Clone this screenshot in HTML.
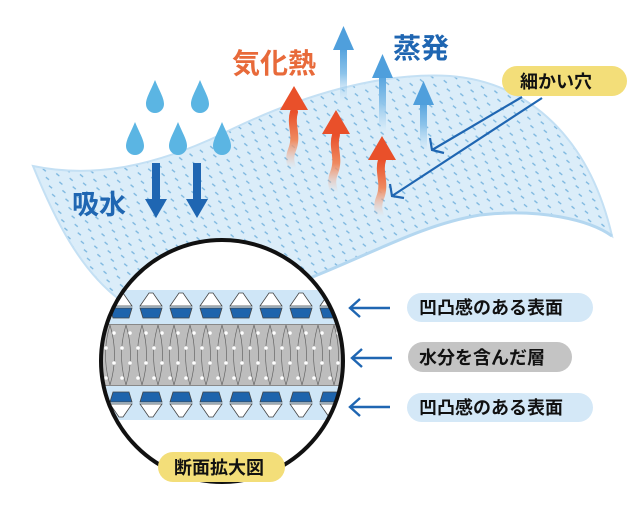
<!DOCTYPE html>
<html><head><meta charset="utf-8"><style>
html,body{margin:0;padding:0;background:#fff;}
svg{display:block;}
text{font-family:"Liberation Sans","Noto Sans CJK JP",sans-serif;font-weight:bold;}
</style></head><body>
<svg width="640" height="520" viewBox="0 0 640 520" xmlns="http://www.w3.org/2000/svg">
<defs>
<pattern id="dots" width="11" height="9" patternUnits="userSpaceOnUse" patternTransform="rotate(-20)">
<rect width="11" height="9" fill="#dbedf9"/>
<rect x="3.5" y="3.3" width="4" height="1.3" fill="#7ab6df" transform="rotate(60 5.5 4)"/>
</pattern>
<linearGradient id="red" x1="0" y1="1" x2="0" y2="0">
<stop offset="0" stop-color="#f3b9a0" stop-opacity="0"/><stop offset="0.5" stop-color="#ef8a60"/><stop offset="1" stop-color="#e9502a"/>
</linearGradient>
<linearGradient id="blu" x1="0" y1="1" x2="0" y2="0">
<stop offset="0" stop-color="#a8d2f0" stop-opacity="0"/><stop offset="0.5" stop-color="#8cc3ea"/><stop offset="1" stop-color="#4f9fdc"/>
</linearGradient>
<pattern id="topL" x="106" y="0" width="30" height="520" patternUnits="userSpaceOnUse">
<rect width="30" height="520" fill="#cfe6f7"/>
<path d="M13 293 L17 293 L26 306 L4 306 Z" fill="#fff" stroke="#444" stroke-width="0.8"/>
<path d="M4 308 L26 308 L23 318 L7 318 Z" fill="#1e64ac" stroke="#444" stroke-width="0.8"/>
</pattern>
<pattern id="botL" x="106" y="0" width="30" height="520" patternUnits="userSpaceOnUse">
<rect width="30" height="520" fill="#cfe6f7"/>
<path d="M13 417 L17 417 L26 404 L4 404 Z" fill="#fff" stroke="#444" stroke-width="0.8"/>
<path d="M4 402 L26 402 L23 392 L7 392 Z" fill="#1e64ac" stroke="#444" stroke-width="0.8"/>
</pattern>
<pattern id="gray" x="106" y="325" width="16" height="60" patternUnits="userSpaceOnUse">
<rect width="16" height="60" fill="#bdbdbd"/>
<path d="M4 0 C10 20 10 40 4 60 M4 0 C-2 20 -2 40 4 60 M20 0 C14 20 14 40 20 60" fill="none" stroke="#666" stroke-width="0.7"/>
<circle cx="8" cy="8" r="1.8" fill="#fff"/><circle cx="16" cy="23" r="1.8" fill="#fff"/><circle cx="0" cy="23" r="1.8" fill="#fff"/>
<circle cx="8" cy="38" r="1.8" fill="#fff"/><circle cx="16" cy="53" r="1.8" fill="#fff"/><circle cx="0" cy="53" r="1.8" fill="#fff"/>
</pattern>
<clipPath id="circ"><circle cx="222" cy="361" r="121"/></clipPath>
</defs>
<!-- cloth -->
<path d="M33 166 C90 178 150 168 220 135 C300 95 380 72 450 76 C530 82 590 140 612 236 C590 220 540 208 480 215 C420 225 370 255 300 282 C230 305 150 320 120 300 C80 270 55 220 33 166 Z" fill="url(#dots)" stroke="#c4e0f4" stroke-width="2"/>
<path d="M612 236 C590 220 540 208 480 215 C420 225 370 255 300 282" fill="none" stroke="#b4d7f0" stroke-width="3"/>
<!-- drops -->
<g fill="#5bb5e3">
<path d="M155 80 C150 92 146 98 146 104 A9 9 0 0 0 164 104 C164 98 160 92 155 80Z"/>
<path d="M200 80 C195 92 191 98 191 104 A9 9 0 0 0 209 104 C209 98 205 92 200 80Z"/>
<path d="M135 122 C130 134 126 140 126 146 A9 9 0 0 0 144 146 C144 140 140 134 135 122Z"/>
<path d="M178 122 C173 134 169 140 169 146 A9 9 0 0 0 187 146 C187 140 183 134 178 122Z"/>
<path d="M222 122 C217 134 213 140 213 146 A9 9 0 0 0 231 146 C231 140 227 134 222 122Z"/>
</g>
<g fill="#1f66b2">
<rect x="152" y="163" width="8" height="40"/><path d="M145 199 L167 199 L156 218Z"/>
<rect x="193" y="163" width="8" height="40"/><path d="M186 199 L208 199 L197 218Z"/>
</g>
<text x="72" y="214" font-size="27" fill="#1f66b2">吸水</text>
<text x="232" y="73" font-size="28" fill="#e86a3a">気化熱</text>
<text x="393" y="58" font-size="28" fill="#1f66b2">蒸発</text>
<!-- blue up arrows -->
<g>
<rect x="340" y="46" width="7" height="55" fill="url(#blu)"/><path d="M333 50 L354 50 L343.5 26Z" fill="#4f9fdc"/>
<rect x="379" y="72" width="7" height="60" fill="url(#blu)"/><path d="M372 78 L393 78 L382.5 54Z" fill="#4f9fdc"/>
<rect x="420" y="100" width="7" height="50" fill="url(#blu)"/><path d="M413 105 L434 105 L423.5 81Z" fill="#4f9fdc"/>
</g>
<!-- red wavy arrows -->
<g fill="none" stroke="url(#red)" stroke-width="8" stroke-linecap="round">
<path d="M294 112 C290 125 298 135 292 150 C288 160 292 166 292 168"/>
<path d="M336 135 C332 148 340 158 334 173 C330 183 334 190 334 192"/>
<path d="M382 160 C378 173 386 183 380 198 C376 208 380 214 380 216"/>
</g>
<g fill="#e9502a">
<path d="M280 110 L308 110 L294 86Z"/><path d="M322 134 L350 134 L336 110Z"/><path d="M368 160 L396 160 L382 136Z"/>
</g>
<!-- 細かい穴 -->
<rect x="502" y="66" width="125" height="30" rx="15" fill="#f3de79"/>
<text x="520" y="88" font-size="18" fill="#111">細かい穴</text>
<g stroke="#1f66b2" stroke-width="2.2" fill="none">
<path d="M522 97 L432 150 M430 138 L432 150 L444 153"/>
<path d="M542 98 L392 196 M390 184 L392 196 L404 198"/>
</g>
<!-- circle -->
<circle cx="222" cy="361" r="121" fill="#fff"/>
<g clip-path="url(#circ)">
<rect x="90" y="290" width="260" height="34" fill="url(#topL)"/>
<rect x="90" y="325" width="260" height="60" fill="url(#gray)"/>
<rect x="90" y="386" width="260" height="34" fill="url(#botL)"/>
<line x1="90" y1="324.5" x2="350" y2="324.5" stroke="#888" stroke-width="1"/>
<line x1="90" y1="385.5" x2="350" y2="385.5" stroke="#888" stroke-width="1"/>
</g>
<circle cx="222" cy="361" r="121" fill="none" stroke="#111" stroke-width="4"/>
<rect x="158" y="452" width="127" height="30" rx="15" fill="#f3de79"/>
<text x="174" y="474" font-size="18" fill="#111">断面拡大図</text>
<!-- right labels -->
<g stroke="#1f66b2" stroke-width="2.4" fill="none">
<path d="M390 308 L350 308 M360 299 L350 308 L360 317"/>
<path d="M392 358 L352 358 M362 349 L352 358 L362 367"/>
<path d="M390 407 L350 407 M360 398 L350 407 L360 416"/>
</g>
<rect x="407" y="293" width="186" height="29" rx="14.5" fill="#d4e8f7"/>
<text x="419" y="314" font-size="18" fill="#111">凹凸感のある表面</text>
<rect x="408" y="342" width="164" height="30" rx="15" fill="#c4c4c4"/>
<text x="419" y="364" font-size="18" fill="#111">水分を含んだ層</text>
<rect x="407" y="393" width="186" height="29" rx="14.5" fill="#d4e8f7"/>
<text x="419" y="414" font-size="18" fill="#111">凹凸感のある表面</text>
</svg>
</body></html>
